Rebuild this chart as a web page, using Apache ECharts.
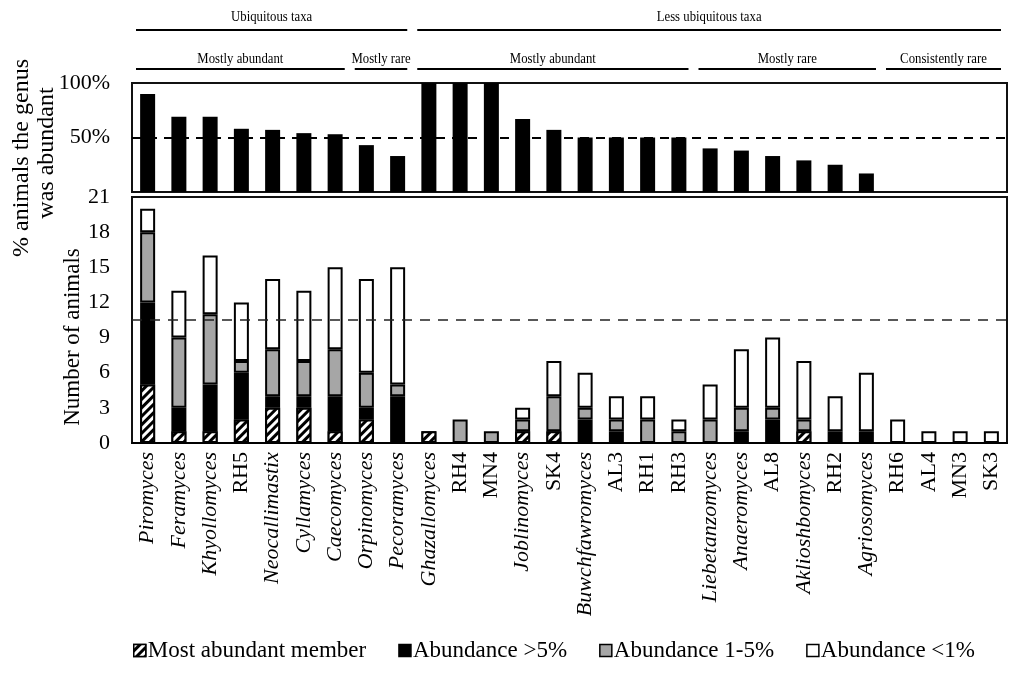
<!DOCTYPE html>
<html><head><meta charset="utf-8">
<script src="https://cdn.jsdelivr.net/npm/echarts@6/dist/echarts.min.js"></script>
<style>html,body{margin:0;padding:0;background:#fff}#c{width:1013px;height:677px}</style>
</head><body><div id="c"></div>
<script>
const categories = ['Piromyces','Feramyces','Khyollomyces','RH5','Neocallimastix','Cyllamyces','Caecomyces','Orpinomyces','Pecoramyces','Ghazallomyces','RH4','MN4','Joblinomyces','SK4','Buwchfawromyces','AL3','RH1','RH3','Liebetanzomyces','Anaeromyces','AL8','Aklioshbomyces','RH2','Agriosomyces','RH6','AL4','MN3','SK3'];
const pctAbundant = [90,69,69,58,57,54,53,43,33,100,100,100,67,57,50,50,50,50,40,38,33,29,25,17,0,0,0,0];
const mostAbundant = [5,1,1,2,3,3,1,2,0,1,0,0,1,1,0,0,0,0,0,0,0,1,0,0,0,0,0,0];
const abundGt5 = [7,2,4,4,1,1,3,1,4,0,0,0,0,0,2,1,0,0,0,1,2,0,1,1,0,0,0,0];
const abund1to5 = [6,6,6,1,4,3,4,3,1,0,2,1,1,3,1,1,2,1,2,2,1,1,0,0,0,0,0,0];
const abundLt1 = [2,4,5,5,6,6,7,8,10,0,0,0,1,3,3,2,2,1,3,5,6,5,3,5,2,1,1,1];
const pctTicks = [0,50,100];
const countTicks = [0,3,6,9,12,15,18,21];
const pctThreshold = 50;
const countThreshold = 10.5;
const groupsTop = [{name:'Ubiquitous taxa',from:0,to:8},{name:'Less ubiquitous taxa',from:9,to:27}];
const groupsSub = [{name:'Mostly abundant',from:0,to:6},{name:'Mostly rare',from:7,to:8},{name:'Mostly abundant',from:9,to:17},{name:'Mostly rare',from:18,to:23},{name:'Consistently rare',from:24,to:27}];
const seriesNames = ['Most abundant member','Abundance >5%','Abundance 1-5%','Abundance <1%'];

const FONT = 'Liberation Serif';
const isGenus = n => /myces$|mastix$/.test(n);
const nz = a => a.map(v => v === 0 ? '-' : v);
const chart = echarts.init(document.getElementById('c'));
const segStyle = (color) => ({color: color, borderColor:'#000', borderWidth:2});
const option = {
  animation:false,
  textStyle:{fontFamily:FONT,color:'#000'},
  grid:[
    {left:132,right:6,top:83,height:109,show:true,borderColor:'#111',borderWidth:2,backgroundColor:'transparent'},
    {left:132,right:6,top:197,bottom:234,show:true,borderColor:'#111',borderWidth:2,backgroundColor:'transparent'}
  ],
  xAxis:[
    {type:'category',gridIndex:0,data:categories,axisLabel:{show:false},axisTick:{show:false},axisLine:{show:false}},
    {type:'category',gridIndex:1,data:categories,axisTick:{show:false},axisLine:{lineStyle:{color:'#000',width:2}},
     axisLabel:{rotate:90,interval:0,margin:9,fontFamily:FONT,fontSize:22,color:'#000',
       formatter:n => isGenus(n) ? '{i|'+n+'}' : '{n|'+n+'}',
       rich:{i:{fontStyle:'italic',fontFamily:FONT,fontSize:22,color:'#000'},n:{fontFamily:FONT,fontSize:22,color:'#000'}}}}
  ],
  yAxis:[
    {type:'value',gridIndex:0,min:pctTicks[0],max:pctTicks[pctTicks.length-1],interval:50,splitLine:{show:false},axisLine:{show:false},axisTick:{show:false},
     axisLabel:{margin:22,fontFamily:FONT,fontSize:22,color:'#000',formatter:v => v === 0 ? '' : v+'%'}},
    {type:'value',gridIndex:1,min:countTicks[0],max:countTicks[countTicks.length-1],interval:3,splitLine:{show:false},axisLine:{show:false},axisTick:{show:false},
     axisLabel:{margin:22,fontFamily:FONT,fontSize:22,color:'#000'}}
  ],
  legend:{bottom:10,left:128,icon:'rect',itemWidth:12,itemHeight:12,itemGap:32,
    itemStyle:{borderColor:'#000',borderWidth:1.5},
    textStyle:{fontFamily:FONT,fontSize:23,color:'#000',padding:[0,0,0,-3]},
    data:seriesNames},
  series:[
    {type:'bar',xAxisIndex:0,yAxisIndex:0,data:pctAbundant,barWidth:15,itemStyle:{color:'#000'},
     markLine:{silent:true,symbol:'none',label:{show:false},lineStyle:{color:'#000',type:[9,7],width:2},data:[{yAxis:pctThreshold}]}},
    {name:seriesNames[0],type:'bar',xAxisIndex:1,yAxisIndex:1,stack:'n',barWidth:15,data:nz(mostAbundant),
     itemStyle:Object.assign(segStyle('#000'),{decal:{symbol:'rect',symbolSize:1,color:'#fff',dashArrayX:[[1,0]],dashArrayY:[3,3],rotation:-Math.PI/4}}),
     markLine:{silent:true,symbol:'none',label:{show:false},lineStyle:{color:'#222',type:[10,8],width:1.5},data:[{yAxis:countThreshold}]}},
    {name:seriesNames[1],type:'bar',xAxisIndex:1,yAxisIndex:1,stack:'n',data:nz(abundGt5),itemStyle:segStyle('#000')},
    {name:seriesNames[2],type:'bar',xAxisIndex:1,yAxisIndex:1,stack:'n',data:nz(abund1to5),itemStyle:segStyle('#a6a6a6')},
    {name:seriesNames[3],type:'bar',xAxisIndex:1,yAxisIndex:1,stack:'n',data:nz(abundLt1),itemStyle:segStyle('#fff')}
  ]
};
chart.setOption(option);

// header group brackets and axis titles
function edge(i, side){
  const c = chart.convertToPixel({xAxisIndex:1}, i);
  const c2 = chart.convertToPixel({xAxisIndex:1}, i === 0 ? 1 : i-1);
  const band = Math.abs(c - c2);
  return c + side*band/2;
}
const g = [];
function addGroups(groups, lineY, textY, size){
  groups.forEach(gr => {
    const x1 = edge(gr.from,-1)+4, x2 = edge(gr.to,1)-6;
    g.push({type:'line',shape:{x1:x1,y1:lineY,x2:x2,y2:lineY},style:{stroke:'#000',lineWidth:2}});
    g.push({type:'text',x:(x1+x2)/2,y:textY,scaleX:0.85,style:{text:gr.name,font:size+'px '+FONT,fill:'#000',align:'center',verticalAlign:'middle'}});
  });
}
addGroups(groupsTop, 30, 17, 15);
addGroups(groupsSub, 69, 59, 15);
g.push({type:'text',x:22,y:158,rotation:Math.PI/2,style:{text:'% animals the genus',font:'24px '+FONT,fill:'#000',align:'center',verticalAlign:'middle'}});
g.push({type:'text',x:47,y:153,rotation:Math.PI/2,style:{text:'was abundant',font:'24px '+FONT,fill:'#000',align:'center',verticalAlign:'middle'}});
g.push({type:'text',x:73,y:337,rotation:Math.PI/2,style:{text:'Number of animals',font:'23px '+FONT,fill:'#000',align:'center',verticalAlign:'middle'}});
chart.setOption({graphic:g});
</script></body></html>
